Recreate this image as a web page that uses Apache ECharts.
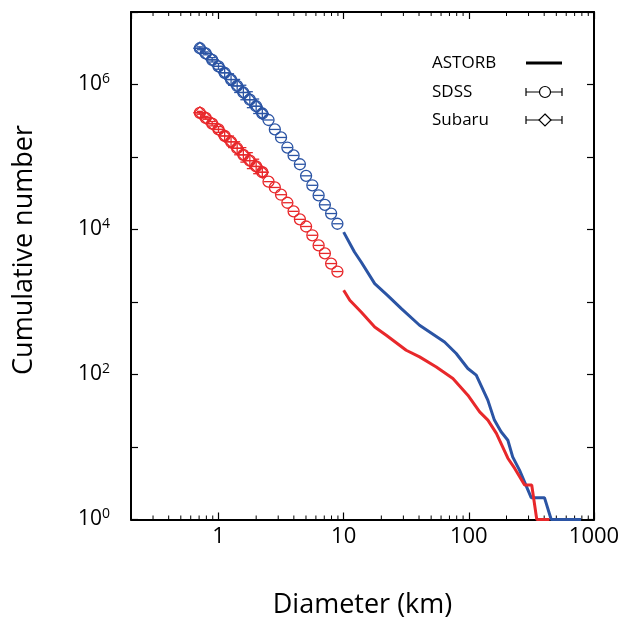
<!DOCTYPE html>
<html>
<head>
<meta charset="UTF-8">
<title>Cumulative number</title>
<script src="https://cdn.jsdelivr.net/npm/echarts@6/dist/echarts.min.js"></script>
</head>
<body style="margin:0">
<div id="chart" style="width:626px;height:624px;"></div>
<script>
// diameters (km) of SDSS bins
var sdssD = [0.71, 0.79, 0.89, 1.0, 1.12, 1.26, 1.41, 1.58, 1.78, 2.0, 2.24, 2.51,
             2.82, 3.16, 3.55, 3.98, 4.47, 5.01, 5.62, 6.31, 7.08, 7.94, 8.91];
var sdssBlue = [3.16e6, 2.69e6, 2.19e6, 1.78e6, 1.45e6, 1.17e6, 9.55e5, 7.76e5, 6.17e5, 5.01e5,
                3.98e5, 3.24e5, 2.40e5, 1.86e5, 1.35e5, 1.05e5, 7.94e4, 5.50e4, 4.07e4, 2.95e4,
                2.19e4, 1.66e4, 1.20e4];
var sdssRed = [4.07e5, 3.47e5, 2.88e5, 2.40e5, 1.95e5, 1.62e5, 1.32e5, 1.07e5, 8.91e4, 7.41e4,
               6.17e4, 4.57e4, 3.80e4, 3.02e4, 2.34e4, 1.78e4, 1.38e4, 1.10e4, 8.32e3, 6.03e3,
               4.68e3, 3.39e3, 2.63e3];

// Subaru bins (overlap the small end of SDSS)
var subaruD = [0.71, 0.79, 0.89, 1.0, 1.12, 1.26, 1.41, 1.58, 1.78, 2.0, 2.24];
var subaruBlue = [3.16e6, 2.69e6, 2.19e6, 1.78e6, 1.45e6, 1.17e6, 9.55e5, 7.76e5, 6.17e5, 5.01e5, 3.98e5];
var subaruRed = [4.07e5, 3.47e5, 2.88e5, 2.40e5, 1.95e5, 1.62e5, 1.32e5, 1.07e5, 8.91e4, 7.41e4, 6.17e4];
// error bar half-length in dex
var subaruErr = [0.02, 0.02, 0.03, 0.04, 0.06, 0.08, 0.09, 0.10, 0.11, 0.10, 0.06];

// ASTORB cumulative curves
var astorbBlueD = [10, 12.2, 13.8, 17.7, 22.4, 28.9, 40.4, 64, 79.3, 98.2, 114.6, 141.8,
                   160, 181, 205, 224, 254, 315, 402, 455, 789];
var astorbBlueN = [9200, 4890, 3560, 1790, 1237, 811, 478, 281, 195, 121, 98, 44.3,
                   23.5, 16.2, 12.4, 7.3, 4.8, 2, 2, 1, 1];
var astorbRedD = [10, 11.2, 13.8, 17.7, 21.9, 31.6, 40.4, 55, 74.6, 98.2, 122, 142,
                  166, 205, 232, 279, 318, 349, 441];
var astorbRedN = [1449, 1055, 728, 453, 348, 216, 175, 127, 88, 51.9, 30.5, 23.5,
                  15.4, 7, 5.1, 3, 3, 1, 1];

var minorTicks = [0.3, 0.4, 0.5, 0.6, 0.7, 0.8, 0.9, 2, 3, 4, 5, 6, 7, 8, 9,
                  20, 30, 40, 50, 60, 70, 80, 90, 200, 300, 400, 500, 600, 700, 800, 900];

var BLUE = '#2b54a4';
var RED = '#e8282b';
var FONT = 'Open Sans';

function zip(a, b) {
    var out = [];
    for (var i = 0; i < a.length; i++) out.push([a[i], b[i]]);
    return out;
}

function sdssItem(color) {
    return function (params, api) {
        var p = api.coord([api.value(0), api.value(1)]);
        return {
            type: 'group', children: [
                {type: 'circle', shape: {cx: p[0], cy: p[1], r: 5.5},
                 style: {fill: 'none', stroke: color, lineWidth: 1.3}},
                {type: 'line', shape: {x1: p[0] - 5, y1: p[1], x2: p[0] + 5, y2: p[1]},
                 style: {stroke: color, lineWidth: 1.3}}
            ]
        };
    };
}

function subaruItem(color) {
    return function (params, api) {
        var x = api.value(0), y = api.value(1), e = api.value(2);
        var p = api.coord([x, y]);
        var lo = api.coord([x, y / Math.pow(10, e)]);
        var hi = api.coord([x, y * Math.pow(10, e)]);
        var s = 6;
        return {
            type: 'group', children: [
                {type: 'polygon', shape: {points: [[p[0], p[1] - s], [p[0] + s, p[1]], [p[0], p[1] + s], [p[0] - s, p[1]]]},
                 style: {fill: 'none', stroke: color, lineWidth: 1.3}},
                {type: 'line', shape: {x1: p[0] - 5, y1: p[1], x2: p[0] + 5, y2: p[1]},
                 style: {stroke: color, lineWidth: 1.3}},
                {type: 'line', shape: {x1: p[0], y1: lo[1], x2: p[0], y2: hi[1]},
                 style: {stroke: color, lineWidth: 1.3}},
                {type: 'line', shape: {x1: p[0] - 3, y1: lo[1], x2: p[0] + 3, y2: lo[1]},
                 style: {stroke: color, lineWidth: 1.3}},
                {type: 'line', shape: {x1: p[0] - 3, y1: hi[1], x2: p[0] + 3, y2: hi[1]},
                 style: {stroke: color, lineWidth: 1.3}}
            ]
        };
    };
}

function minorTickItem(params, api) {
    var v = api.value(0);
    var b = api.coord([v, 1]);
    var t = api.coord([v, 1e7]);
    return {
        type: 'group', children: [
            {type: 'line', shape: {x1: b[0], y1: b[1], x2: b[0], y2: b[1] - 4}, style: {stroke: '#000', lineWidth: 1}},
            {type: 'line', shape: {x1: t[0], y1: t[1], x2: t[0], y2: t[1] + 4}, style: {stroke: '#000', lineWidth: 1}}
        ]
    };
}

var axisLine = {show: true, lineStyle: {color: '#000', width: 2}};
var tick = {show: true, inside: true, length: 7, lineStyle: {color: '#000', width: 1.2}};

var chart = echarts.init(document.getElementById('chart'), null, {renderer: 'canvas'});
chart.setOption({
    animation: false,
    backgroundColor: '#fff',
    grid: {left: 131, right: 32, top: 12, bottom: 104.5},
    xAxis: [{
        type: 'log', logBase: 10, min: 0.2, max: 1000, splitNumber: 4,
        name: 'Diameter (km)', nameLocation: 'middle', nameGap: 72,
        nameTextStyle: {fontFamily: FONT, fontSize: 27, color: '#000'},
        axisLine: axisLine, axisTick: tick, splitLine: {show: false},
        axisLabel: {showMinLabel: false, margin: 6, fontFamily: FONT, fontSize: 22, color: '#000',
                    formatter: function (v) { return String(Math.round(v * 1000) / 1000); }}
    }, {
        type: 'log', logBase: 10, min: 0.2, max: 1000, splitNumber: 4, position: 'top',
        axisLine: axisLine, axisTick: tick, axisLabel: {show: false}, splitLine: {show: false}
    }],
    yAxis: [{
        type: 'log', logBase: 10, min: 1, max: 1e7, splitNumber: 7,
        axisLine: axisLine, axisTick: tick, splitLine: {show: false},
        axisLabel: {
            margin: 21, color: '#000',
            formatter: function (v) {
                var e = Math.round(Math.log10(v));
                if (e % 2 !== 0) return '';
                return '{b|10}{s|' + e + '}';
            },
            rich: {
                b: {fontFamily: FONT, fontSize: 21, color: '#000', lineHeight: 25},
                s: {fontFamily: FONT, fontSize: 14, color: '#000', verticalAlign: 'top', lineHeight: 14}
            }
        }
    }, {
        type: 'log', logBase: 10, min: 1, max: 1e7, splitNumber: 7, position: 'right',
        axisLine: axisLine, axisTick: tick, axisLabel: {show: false}, splitLine: {show: false}
    }],
    graphic: [
        {type: 'text', x: 24, y: 250, rotation: Math.PI / 2,
         style: {text: 'Cumulative number', fontFamily: FONT, fontSize: 27, fill: '#000',
                 align: 'center', verticalAlign: 'middle'}},
        {type: 'text', x: 432, y: 63, style: {text: 'ASTORB', fontFamily: FONT, fontSize: 17, fill: '#000', verticalAlign: 'middle'}},
        {type: 'text', x: 432, y: 92, style: {text: 'SDSS', fontFamily: FONT, fontSize: 17, fill: '#000', verticalAlign: 'middle'}},
        {type: 'text', x: 432, y: 120, style: {text: 'Subaru', fontFamily: FONT, fontSize: 17, fill: '#000', verticalAlign: 'middle'}},
        {type: 'line', shape: {x1: 526, y1: 63, x2: 562, y2: 63}, style: {stroke: '#000', lineWidth: 3}},
        {type: 'line', shape: {x1: 526, y1: 92, x2: 562, y2: 92}, style: {stroke: '#000', lineWidth: 1.2}},
        {type: 'line', shape: {x1: 526, y1: 88, x2: 526, y2: 96}, style: {stroke: '#000', lineWidth: 1.2}},
        {type: 'line', shape: {x1: 562, y1: 88, x2: 562, y2: 96}, style: {stroke: '#000', lineWidth: 1.2}},
        {type: 'circle', shape: {cx: 545, cy: 92, r: 5.5}, style: {fill: '#fff', stroke: '#000', lineWidth: 1.2}},
        {type: 'line', shape: {x1: 526, y1: 120, x2: 562, y2: 120}, style: {stroke: '#000', lineWidth: 1.2}},
        {type: 'line', shape: {x1: 526, y1: 116, x2: 526, y2: 124}, style: {stroke: '#000', lineWidth: 1.2}},
        {type: 'line', shape: {x1: 562, y1: 116, x2: 562, y2: 124}, style: {stroke: '#000', lineWidth: 1.2}},
        {type: 'polygon', shape: {points: [[545, 114], [551, 120], [545, 126], [539, 120]]},
         style: {fill: '#fff', stroke: '#000', lineWidth: 1.2}}
    ],
    series: [
        {type: 'custom', renderItem: minorTickItem, data: minorTicks.map(function (v) { return [v, 1]; }), silent: true},
        {type: 'line', name: 'ASTORB', data: zip(astorbBlueD, astorbBlueN), showSymbol: false,
         lineStyle: {color: BLUE, width: 3}},
        {type: 'line', name: 'ASTORB', data: zip(astorbRedD, astorbRedN), showSymbol: false,
         lineStyle: {color: RED, width: 3}},
        {type: 'custom', name: 'SDSS', renderItem: sdssItem(BLUE), data: zip(sdssD, sdssBlue)},
        {type: 'custom', name: 'SDSS', renderItem: sdssItem(RED), data: zip(sdssD, sdssRed)},
        {type: 'custom', name: 'Subaru', renderItem: subaruItem(BLUE),
         data: subaruD.map(function (d, i) { return [d, subaruBlue[i], subaruErr[i]]; })},
        {type: 'custom', name: 'Subaru', renderItem: subaruItem(RED),
         data: subaruD.map(function (d, i) { return [d, subaruRed[i], subaruErr[i]]; })}
    ]
});
</script>
</body>
</html>
